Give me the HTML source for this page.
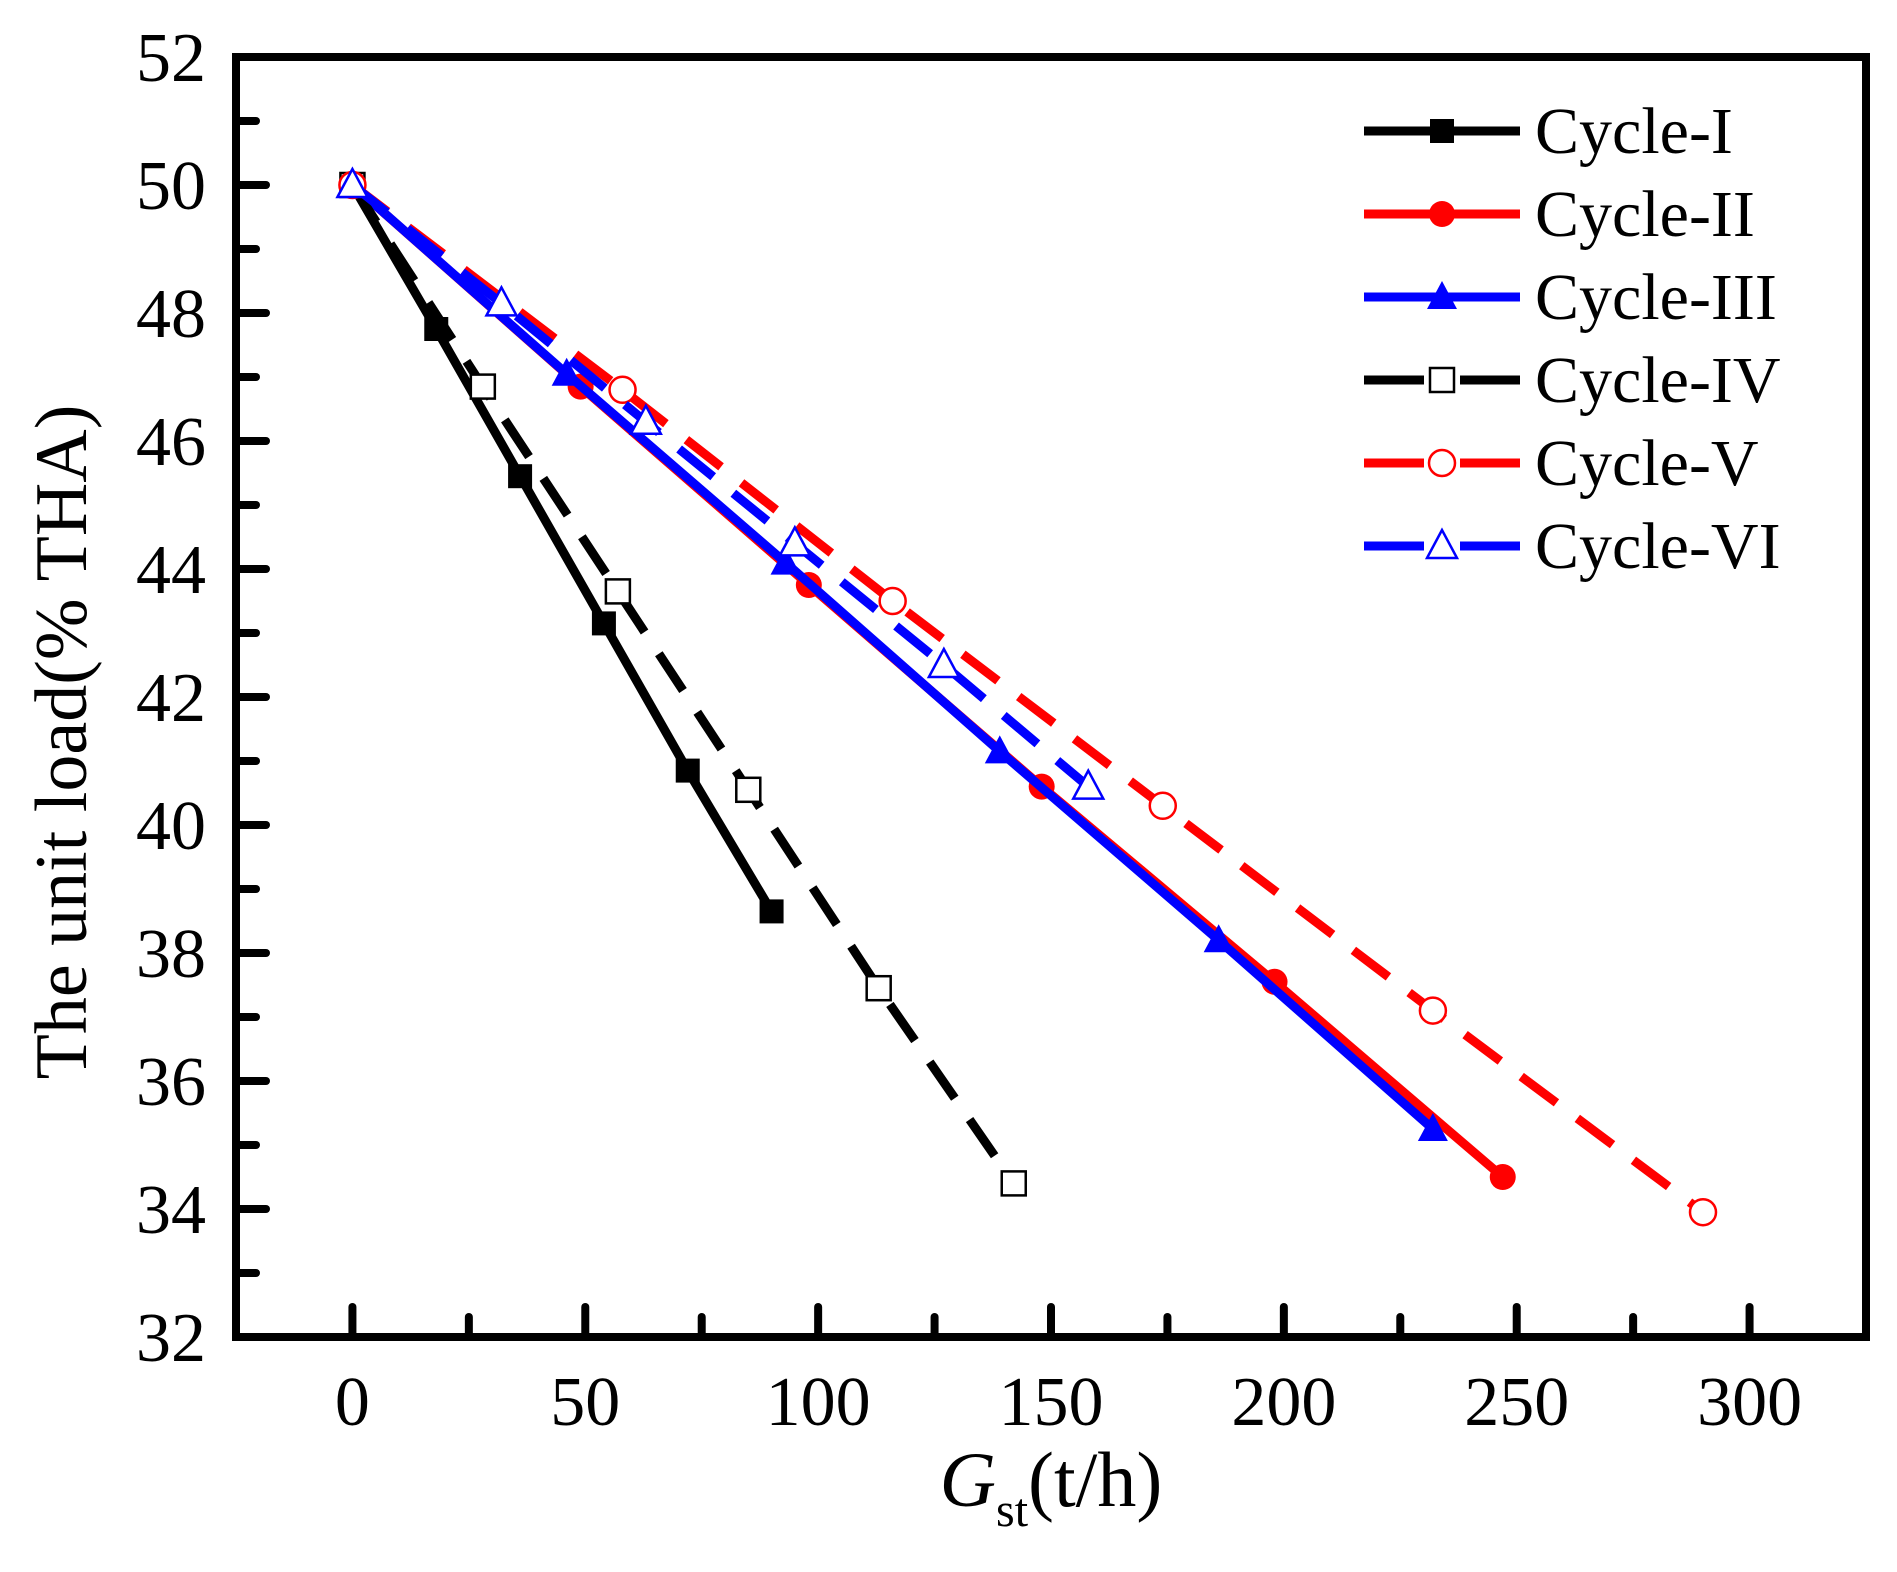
<!DOCTYPE html>
<html><head><meta charset="utf-8"><style>
html,body{margin:0;padding:0;background:#fff;}
svg text{font-family:"Liberation Serif",serif;}
</style></head><body>
<svg id="chart" xmlns="http://www.w3.org/2000/svg" width="1897" height="1567" viewBox="0 0 1897 1567">
<g id="plot"></g>
</svg>
<script>
const xTicks=[0,50,100,150,200,250,300];
const yTicks=[32,34,36,38,40,42,44,46,48,50,52];
const seriesNames=["Cycle-I","Cycle-II","Cycle-III","Cycle-IV","Cycle-V","Cycle-VI"];
const xI=[0,18,36,54,72,90];const yI=[50,47.75,45.45,43.15,40.85,38.65];
const xII=[0,49,98,148,198,247];const yII=[50,46.85,43.75,40.6,37.55,34.5];
const xIII=[0,46,93,139,186,232];const yIII=[50,47.05,44.1,41.15,38.2,35.25];
const xIV=[0,28,57,85,113,142];const yIV=[50,46.85,43.65,40.55,37.45,34.4];
const xV=[0,58,116,174,232,290];const yV=[50,46.8,43.5,40.3,37.1,33.95];
const xVI=[0,32,63,95,127,158];const yVI=[50,48.15,46.3,44.4,42.5,40.6];

const L=236,R=1866,T=57,B=1337,X0=-25,X1=325,Y0=32,Y1=52;
const sx=v=>L+(v-X0)/(X1-X0)*(R-L);
const sy=v=>B-(v-Y0)/(Y1-Y0)*(B-T);
const NS="http://www.w3.org/2000/svg";
const g=document.getElementById('plot');
function el(t,a,p){const e=document.createElementNS(NS,t);for(const k in a)e.setAttribute(k,a[k]);(p||g).appendChild(e);return e;}

for(let v=0;v<=325;v+=25){const major=v%50===0;const t=el('line',{x1:sx(v),x2:sx(v),y1:B,y2:B-(major?30:20),stroke:'#000','stroke-width':8,'stroke-linecap':'round'});

}
for(let v=33;v<52;v+=1){const major=v%2===0;const t=el('line',{x1:L,x2:L+(major?30:20),y1:sy(v),y2:sy(v),stroke:'#000','stroke-width':8,'stroke-linecap':'round'});

}
xTicks.forEach(v=>{const t=el('text',{x:sx(v),y:B+88,'font-size':70,'text-anchor':'middle'});t.textContent=v;

});
yTicks.forEach(v=>{const t=el('text',{x:L-30,y:sy(v)+24,'font-size':70,'text-anchor':'end'});t.textContent=v;

});
const frame=el('rect',{x:L,y:T,width:R-L,height:B-T,fill:'none',stroke:'#000','stroke-width':8});



const xt=el('text',{x:(L+R)/2,y:1506,'font-size':78,'text-anchor':'middle'});


xt.innerHTML='<tspan font-style="italic">G</tspan><tspan font-size="48" dy="20">st</tspan><tspan dy="-20">(t/h)</tspan>';
const yt=el('text',{x:0,y:0,'font-size':74,'text-anchor':'middle',transform:`translate(86,742) rotate(-90)`});
yt.textContent='The unit load(% THA)';



const styles=[
 {xs:xI,ys:yI,c:'#000',dash:null,m:'square',fill:true},
 {xs:xII,ys:yII,c:'#f00',dash:null,m:'circle',fill:true},
 {xs:xIII,ys:yIII,c:'#00f',dash:null,m:'tri',fill:true},
 {xs:xIV,ys:yIV,c:'#000',dash:'44 26',m:'square',fill:false},
 {xs:xV,ys:yV,c:'#f00',dash:'44 26',m:'circle',fill:false},
 {xs:xVI,ys:yVI,c:'#00f',dash:'44 26',m:'tri',fill:false}];
function marker(kind,x,y,c,fill,parent){
 const a={fill:fill?c:'#fff',stroke:c,'stroke-width':fill?0:2.5};let e;
 if(kind==='square')e=el('rect',Object.assign({x:x-12,y:y-12,width:24,height:24},a),parent);
 else if(kind==='circle')e=el('circle',Object.assign({cx:x,cy:y,r:13},a),parent);
 else e=el('polygon',Object.assign({points:`${x},${y-16} ${x-15},${y+12} ${x+15},${y+12}`},a),parent);
 return e;}
styles.forEach((s,i)=>{
 const sg=el('g',{});
 
 
 const pts=s.xs.map((x,j)=>sx(x)+','+sy(s.ys[j])).join(' ');
 const pl=el('polyline',{points:pts,fill:'none',stroke:s.c,'stroke-width':9,'stroke-dasharray':s.dash||'none'},sg);
 
 
 s.xs.forEach((x,j)=>{const m=marker(s.m,sx(x),sy(s.ys[j]),s.c,s.fill,sg);
 
 });
 const ly=131+i*83;
 const lg=el('g',{});
 
 
 if(s.dash){
  el('line',{x1:1364,x2:1424,y1:ly,y2:ly,stroke:s.c,'stroke-width':9},lg);
  el('line',{x1:1460,x2:1520,y1:ly,y2:ly,stroke:s.c,'stroke-width':9},lg);
 } else el('line',{x1:1364,x2:1520,y1:ly,y2:ly,stroke:s.c,'stroke-width':9},lg);
 marker(s.m,1442,ly,s.c,s.fill,lg);
 const t=el('text',{x:1535,y:ly+22,'font-size':66},lg);t.textContent=seriesNames[i];
});
</script>
</body></html>
